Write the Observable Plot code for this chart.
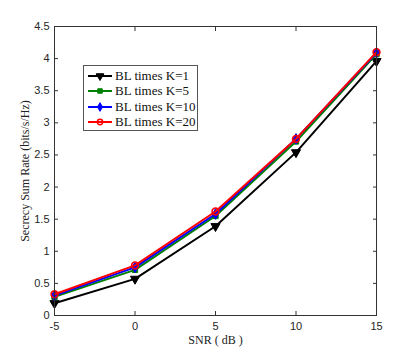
<!DOCTYPE html>
<html><head><meta charset="utf-8">
<script src="https://cdn.jsdelivr.net/npm/d3@7"></script>
<script src="https://cdn.jsdelivr.net/npm/@observablehq/plot@0.6"></script>
<style>
body{margin:0;background:#fff;}
#wrap{position:relative;width:415px;height:354px;}
#legend{position:absolute;left:83px;top:65px;width:115px;height:66px;border:1px solid #555;background:#fff;box-sizing:border-box;font-family:"Liberation Serif",serif;font-size:13px;color:#111;padding-top:2px;}
#legend .row{display:flex;align-items:center;height:15.5px;}
#legend svg{margin-left:4px;margin-right:3px;}
</style></head>
<body><div id="wrap"><div id="chart"></div><div id="legend"></div></div>
<script>
const snr = [-5, 0, 5, 10, 15];
const seriesNames = ["BL times K=1", "BL times K=5", "BL times K=10", "BL times K=20"];
const k1 = [0.19, 0.57, 1.39, 2.54, 3.96];
const k5 = [0.29, 0.71, 1.55, 2.71, 4.07];
const k10 = [0.31, 0.75, 1.58, 2.75, 4.09];
const k20 = [0.33, 0.78, 1.62, 2.75, 4.10];
const yTicks = [0, 0.5, 1, 1.5, 2, 2.5, 3, 3.5, 4, 4.5];
const xTicks = [-5, 0, 5, 10, 15];

const styles = [
  {color: "#000000", symbol: "triangle", rotate: 180, fill: "#000000", r: 3.4},
  {color: "#008000", symbol: "square", rotate: 0, fill: "#008000", r: 3},
  {color: "#0000ff", symbol: "diamond", rotate: 0, fill: "#0000ff", r: 3.2},
  {color: "#ff0000", symbol: "circle", rotate: 0, fill: "none", r: 3.4}
];
const vals = [k1, k5, k10, k20];
const data = [];
vals.forEach((v, i) => v.forEach((y, j) => data.push({series: seriesNames[i], idx: i, x: snr[j], y})));

const marks = [];
vals.forEach((v, i) => {
  const d = data.filter(e => e.idx === i);
  const s = styles[i];
  marks.push(Plot.line(d, {x: "x", y: "y", stroke: s.color, strokeWidth: 2}));
  marks.push(Plot.dot(d, {x: "x", y: "y", symbol: () => s.symbol, rotate: s.rotate, fill: s.fill, stroke: s.color, strokeWidth: s.fill === "none" ? 1.6 : 1, r: s.r}));
});

const fmt = d => String(d);
const chart = Plot.plot({
  width: 415, height: 354,
  marginLeft: 54, marginRight: 39, marginTop: 26, marginBottom: 39,
  style: {fontFamily: "'Liberation Sans', Arial, sans-serif", fontSize: "11px", color: "#262626", background: "#fff"},
  symbol: {type: "identity"},
  x: {domain: [-5, 15], ticks: xTicks},
  y: {domain: [0, 4.5], ticks: yTicks},
  marks: [
    Plot.axisX(xTicks, {anchor: "bottom", tickSize: -4, tickPadding: 11, tickFormat: fmt, label: null, fontSize: 11, stroke: "#333"}),
    Plot.axisX(xTicks, {anchor: "top", tickSize: -4, tickFormat: () => "", label: null, stroke: "#333"}),
    Plot.axisY(yTicks, {anchor: "left", tickSize: -4, tickPadding: 9, tickFormat: fmt, label: null, fontSize: 11, stroke: "#333"}),
    Plot.axisY(yTicks, {anchor: "right", tickSize: -4, tickFormat: () => "", label: null, stroke: "#333"}),
    ...marks,
    Plot.frame({stroke: "#333", strokeWidth: 1}),
    Plot.text(["SNR ( dB )"], {frameAnchor: "bottom", dy: 28, fontFamily: "'Liberation Serif', serif", fontSize: 12, fill: "#222"}),
    Plot.text(["Secrecy Sum Rate (bits/s/Hz)"], {frameAnchor: "left", textAnchor: "middle", dx: -29, rotate: -90, fontFamily: "'Liberation Serif', serif", fontSize: 12, fill: "#222"})
  ]
});
document.getElementById("chart").appendChild(chart);

// legend
const legend = d3.select("#legend");
seriesNames.forEach((name, i) => {
  const s = styles[i];
  const row = legend.append("div").attr("class", "row");
  const svg = row.append("svg").attr("width", 24).attr("height", 12);
  svg.append("line").attr("x1", 0).attr("x2", 24).attr("y1", 6).attr("y2", 6).attr("stroke", s.color).attr("stroke-width", 2);
  const sym = {triangle: d3.symbolTriangle, square: d3.symbolSquare, diamond: d3.symbolDiamond, circle: d3.symbolCircle}[s.symbol];
  const size = s.symbol === "triangle" ? 26 : s.symbol === "square" ? 20 : 22;
  svg.append("path").attr("d", d3.symbol(sym, size)())
    .attr("transform", `translate(12,6) rotate(${s.rotate})`)
    .attr("fill", s.fill).attr("stroke", s.color).attr("stroke-width", s.fill === "none" ? 1.5 : 1);
  row.append("span").text(name);
});
</script></body></html>
